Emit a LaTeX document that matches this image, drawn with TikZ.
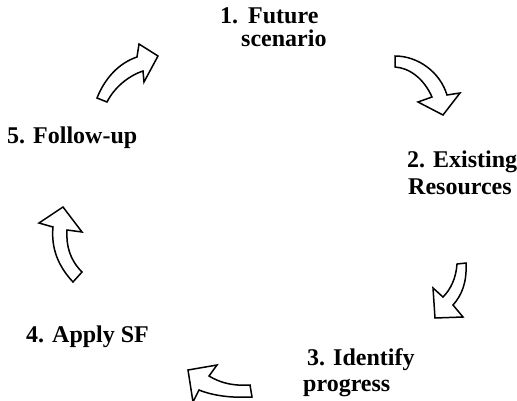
\documentclass[tikz,border=0pt]{standalone}
\usepackage{fontspec}
\setmainfont{Liberation Serif}
\begin{document}
\begin{tikzpicture}[x=1pt,y=-1pt,
  lbl/.style={anchor=base west,inner sep=0pt,font=\fontsize{24}{28}\selectfont\bfseries},
  blockarrow/.style={draw=black,line width=1.5pt,fill=white,line join=miter}]
\useasboundingbox (0,0) rectangle (517,400);
\fill[white] (0,0) rectangle (517,400);
% labels
\node[lbl] (l1a) at (220,23) {1.\hspace{10pt}Future};
\node[lbl] (l1b) at (241,46) {scenario};
\node[lbl] (l2a) at (407,167) {2. Existing};
\node[lbl] (l2b) at (408,194) {Resources};
\node[lbl] (l3a) at (307,365) {3. Identify};
\node[lbl] (l3b) at (303,391) {progress};
\node[lbl] (l4) at (26,342) {4. Apply SF};
\node[lbl] (l5) at (7,143) {5. Follow-up};
\begin{scope}
\clip (0,0) rectangle (517,400);
% arrow 5 -> 1
\draw[blockarrow] (97,98) .. controls (105,78) and (119,63) .. (137,57)
  -- (139,44) -- (158,56) -- (144,82) -- (143,71)
  .. controls (128,76) and (114,88) .. (107,102) -- cycle;
% arrow 1 -> 2
\draw[blockarrow] (395,56) .. controls (418,56) and (440,72) .. (447,95)
  -- (460,93) -- (443,115) -- (418,102) -- (432,97)
  .. controls (424,79) and (410,68) .. (395,67) -- cycle;
% arrow 2 -> 3
\draw[blockarrow] (466,263) .. controls (467,282) and (462,295) .. (453,305)
  -- (463,317) -- (435,318) -- (433,288) -- (443,297)
  .. controls (451,289) and (456,278) .. (457,264) -- cycle;
% arrow 3 -> 4
\draw[blockarrow] (252,397) .. controls (232,398) and (214,396) .. (199,390)
  -- (193,402) -- (188,370) -- (217,365) -- (209,376)
  .. controls (222,384) and (236,386) .. (250,385) -- cycle;
% arrow 4 -> 5
\draw[blockarrow] (73,282) .. controls (58,266) and (51,248) .. (53,227)
  -- (39,223) -- (63,207) -- (82,232) -- (67,230)
  .. controls (66,246) and (70,260) .. (82,272) -- cycle;
\end{scope}
\end{tikzpicture}
\end{document}
